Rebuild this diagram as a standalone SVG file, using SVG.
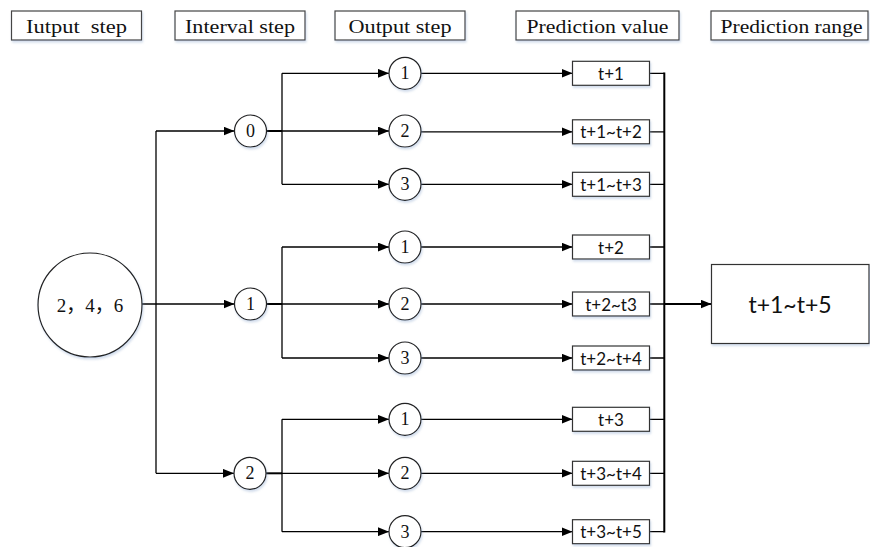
<svg xmlns="http://www.w3.org/2000/svg" width="870" height="547" viewBox="0 0 870 547">
<style>
.hdr rect{fill:#fff;stroke:#444;stroke-width:1.2}
.hdr text{font-family:"Liberation Serif",serif;font-size:19px;fill:#111;text-anchor:middle}
.nd circle{fill:#fff;stroke:#222;stroke-width:1.2}
.nd text{font-family:"Liberation Serif",serif;font-size:18px;fill:#111;text-anchor:middle;dominant-baseline:central}
.nd text.big{font-family:"Liberation Serif","Noto Sans CJK SC",serif;font-size:19px}
.bx rect{fill:#fff;stroke:#333;stroke-width:1.2}
.bx text{font-family:Lato,"Liberation Sans",sans-serif;font-size:17px;fill:#111;text-anchor:middle;dominant-baseline:central}
.bx text.big{font-size:23px}
.c{fill:none;stroke:#000;stroke-width:1.3}
.cb{fill:none;stroke:#000;stroke-width:2}
</style>
<defs>
<marker id="ah" viewBox="0 0 10 8" refX="10" refY="4" markerWidth="11" markerHeight="9" markerUnits="userSpaceOnUse" orient="auto">
<path d="M0,0 L10,4 L0,8 Z" fill="#000"/>
</marker>
<filter id="sh" x="-10%" y="-10%" width="130%" height="140%">
<feDropShadow dx="1" dy="2" stdDeviation="1" flood-color="#7f9cc8" flood-opacity="0.35"/>
</filter>
</defs>

<g id="h1" class="hdr"><rect x="11.5" y="11" width="130" height="29" filter="url(#sh)"/><text x="76.5" y="33" xml:space="preserve" textLength="101" lengthAdjust="spacingAndGlyphs">Iutput  step</text></g>
<g id="h2" class="hdr"><rect x="175" y="11" width="130" height="29" filter="url(#sh)"/><text x="240" y="33" textLength="110" lengthAdjust="spacingAndGlyphs">Interval step</text></g>
<g id="h3" class="hdr"><rect x="335" y="11" width="130" height="29" filter="url(#sh)"/><text x="400" y="33" textLength="103" lengthAdjust="spacingAndGlyphs">Output step</text></g>
<g id="h4" class="hdr"><rect x="516" y="11" width="163" height="29" filter="url(#sh)"/><text x="597.5" y="33" textLength="142" lengthAdjust="spacingAndGlyphs">Prediction value</text></g>
<g id="h5" class="hdr"><rect x="711" y="11" width="157" height="29" filter="url(#sh)"/><text x="791.5" y="33" textLength="142" lengthAdjust="spacingAndGlyphs">Prediction range</text></g>

<g id="connectors">
<path class="c" d="M142,304 L234.5,304" marker-end="url(#ah)"/>
<path class="c" d="M156,131 L156,473.3"/>
<path class="c" d="M156,131 L234.5,131" marker-end="url(#ah)"/>
<path class="c" d="M156,473.3 L234,473.3" marker-end="url(#ah)"/>
<path class="cb" d="M266.5,131 L282,131"/>
<path class="c" d="M282,73.3 L282,184.3"/>
<path class="c" d="M282,73.3 L389,73.3" marker-end="url(#ah)"/>
<path class="c" d="M282,131 L389,131" marker-end="url(#ah)"/>
<path class="c" d="M282,184.3 L389,184.3" marker-end="url(#ah)"/>
<path class="cb" d="M266.5,304 L282,304"/>
<path class="c" d="M282,247 L282,358"/>
<path class="c" d="M282,247 L389,247" marker-end="url(#ah)"/>
<path class="c" d="M282,304 L389,304" marker-end="url(#ah)"/>
<path class="c" d="M282,358 L389,358" marker-end="url(#ah)"/>
<path class="cb" d="M266,473.3 L282,473.3"/>
<path class="c" d="M282,419.3 L282,531.7"/>
<path class="c" d="M282,419.3 L389,419.3" marker-end="url(#ah)"/>
<path class="c" d="M282,473.3 L389,473.3" marker-end="url(#ah)"/>
<path class="c" d="M282,531.7 L389,531.7" marker-end="url(#ah)"/>
<path class="c" d="M421,73.3 L572.5,73.3" marker-end="url(#ah)"/>
<path class="c" d="M421,131.8 L572.5,131.8" marker-end="url(#ah)"/>
<path class="c" d="M421,184.3 L572.5,184.3" marker-end="url(#ah)"/>
<path class="c" d="M421,247 L572.5,247" marker-end="url(#ah)"/>
<path class="c" d="M421,304 L572.5,304" marker-end="url(#ah)"/>
<path class="c" d="M421,358 L572.5,358" marker-end="url(#ah)"/>
<path class="c" d="M421,419.3 L572.5,419.3" marker-end="url(#ah)"/>
<path class="c" d="M421,473.3 L572.5,473.3" marker-end="url(#ah)"/>
<path class="c" d="M421,531.7 L572.5,531.7" marker-end="url(#ah)"/>
<path class="c" d="M649.5,73.3 H664.3 M649.5,131.8 H664.3 M649.5,184.3 H664.3 M649.5,247 H664.3 M649.5,304 H664.3 M649.5,358 H664.3 M649.5,419.3 H664.3 M649.5,473.3 H664.3 M649.5,531.7 H664.3"/>
<path class="cb" d="M664.3,72.6 L664.3,532.4"/>
<path class="cb" d="M664.3,304 L711.5,304" marker-end="url(#ah)"/>
</g>

<g id="n_in" class="nd"><circle cx="90" cy="305" r="52" filter="url(#sh)"/><text class="big" x="90" y="305">2，4，6</text></g>
<g id="n_i0" class="nd"><circle cx="250.5" cy="131" r="16" filter="url(#sh)"/><text x="250.5" y="131">0</text></g>
<g id="n_i1" class="nd"><circle cx="250.5" cy="304" r="16" filter="url(#sh)"/><text x="250.5" y="304">1</text></g>
<g id="n_i2" class="nd"><circle cx="250" cy="473.3" r="16" filter="url(#sh)"/><text x="250" y="473.3">2</text></g>

<g id="n_o01" class="nd"><circle cx="405" cy="73.3" r="16" filter="url(#sh)"/><text x="405" y="73.3">1</text></g>
<g id="n_o02" class="nd"><circle cx="405" cy="131" r="16" filter="url(#sh)"/><text x="405" y="131">2</text></g>
<g id="n_o03" class="nd"><circle cx="405" cy="184.3" r="16" filter="url(#sh)"/><text x="405" y="184.3">3</text></g>
<g id="n_o11" class="nd"><circle cx="405" cy="247" r="16" filter="url(#sh)"/><text x="405" y="247">1</text></g>
<g id="n_o12" class="nd"><circle cx="405" cy="304" r="16" filter="url(#sh)"/><text x="405" y="304">2</text></g>
<g id="n_o13" class="nd"><circle cx="405" cy="358" r="16" filter="url(#sh)"/><text x="405" y="358">3</text></g>
<g id="n_o21" class="nd"><circle cx="405" cy="419.3" r="16" filter="url(#sh)"/><text x="405" y="419.3">1</text></g>
<g id="n_o22" class="nd"><circle cx="405" cy="473.3" r="16" filter="url(#sh)"/><text x="405" y="473.3">2</text></g>
<g id="n_o23" class="nd"><circle cx="405" cy="531.7" r="16" filter="url(#sh)"/><text x="405" y="531.7">3</text></g>

<g id="b01" class="bx"><rect x="572.5" y="61.3" width="77" height="24" filter="url(#sh)"/><text x="611" y="73.3">t+1</text></g>
<g id="b02" class="bx"><rect x="572.5" y="119.8" width="77" height="24" filter="url(#sh)"/><text x="611" y="131.8">t+1~t+2</text></g>
<g id="b03" class="bx"><rect x="572.5" y="172.3" width="77" height="24" filter="url(#sh)"/><text x="611" y="184.3">t+1~t+3</text></g>
<g id="b11" class="bx"><rect x="572.5" y="235" width="77" height="24" filter="url(#sh)"/><text x="611" y="247">t+2</text></g>
<g id="b12" class="bx"><rect x="572.5" y="292" width="77" height="24" filter="url(#sh)"/><text x="611" y="304">t+2~t3</text></g>
<g id="b13" class="bx"><rect x="572.5" y="346" width="77" height="24" filter="url(#sh)"/><text x="611" y="358">t+2~t+4</text></g>
<g id="b21" class="bx"><rect x="572.5" y="407.3" width="77" height="24" filter="url(#sh)"/><text x="611" y="419.3">t+3</text></g>
<g id="b22" class="bx"><rect x="572.5" y="461.3" width="77" height="24" filter="url(#sh)"/><text x="611" y="473.3">t+3~t+4</text></g>
<g id="b23" class="bx"><rect x="572.5" y="519.7" width="77" height="24" filter="url(#sh)"/><text x="611" y="531.7">t+3~t+5</text></g>

<g id="range" class="bx"><rect x="711.5" y="264.5" width="157.5" height="79" filter="url(#sh)"/><text class="big" x="790" y="304">t+1~t+5</text></g>
</svg>
